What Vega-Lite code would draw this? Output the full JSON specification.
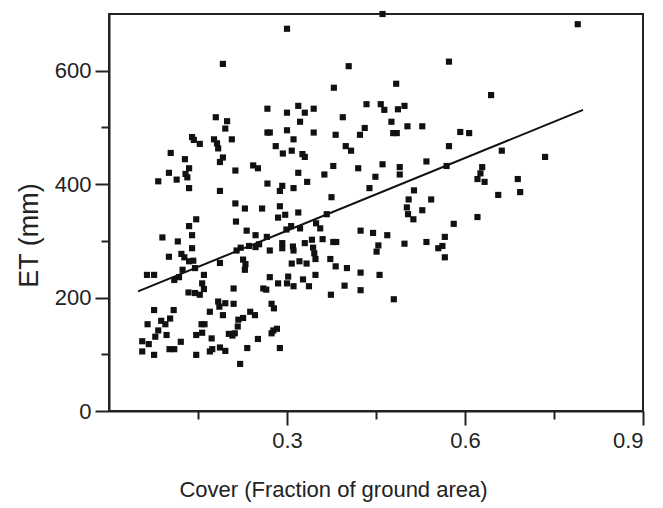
{
  "$schema": "https://vega.github.io/schema/vega-lite/v6.json",
  "width": 534,
  "height": 397,
  "autosize": "none",
  "padding": {"left": 109, "top": 14, "right": 20, "bottom": 97},
  "background": "white",
  "config": {
    "view": {"stroke": "#222", "strokeWidth": 2},
    "axis": {"grid": false, "domainColor": "#222", "domainWidth": 2, "tickColor": "#222", "tickWidth": 2,
      "labelFont": "Liberation Sans", "labelColor": "#222", "titleFont": "Liberation Sans", "titleColor": "#222", "titleFontWeight": "normal"}
  },
  "layer": [
    {
      "data": {"values": [
        {"cover":0.300,"et":674},{"cover":0.192,"et":612},{"cover":0.404,"et":608},{"cover":0.379,"et":570},{"cover":0.434,"et":541},
        {"cover":0.458,"et":541},{"cover":0.267,"et":533},{"cover":0.300,"et":526},{"cover":0.319,"et":538},{"cover":0.330,"et":526},
        {"cover":0.345,"et":533},{"cover":0.322,"et":510},{"cover":0.180,"et":518},{"cover":0.199,"et":511},{"cover":0.196,"et":498},
        {"cover":0.394,"et":518},{"cover":0.431,"et":499},{"cover":0.423,"et":487},{"cover":0.140,"et":483},{"cover":0.143,"et":478},
        {"cover":0.153,"et":471},{"cover":0.177,"et":479},{"cover":0.182,"et":472},{"cover":0.184,"et":463},{"cover":0.207,"et":479},
        {"cover":0.267,"et":491},{"cover":0.271,"et":491},{"cover":0.300,"et":495},{"cover":0.311,"et":479},{"cover":0.345,"et":491},
        {"cover":0.382,"et":487},{"cover":0.461,"et":700},{"cover":0.790,"et":682},{"cover":0.573,"et":616},{"cover":0.484,"et":577},
        {"cover":0.644,"et":557},{"cover":0.464,"et":531},{"cover":0.487,"et":532},{"cover":0.498,"et":538},{"cover":0.476,"et":510},
        {"cover":0.479,"et":490},{"cover":0.485,"et":490},{"cover":0.503,"et":502},{"cover":0.528,"et":502},{"cover":0.592,"et":492},
        {"cover":0.607,"et":490},{"cover":0.281,"et":467},{"cover":0.293,"et":454},{"cover":0.308,"et":459},{"cover":0.326,"et":453},
        {"cover":0.330,"et":448},{"cover":0.399,"et":467},{"cover":0.408,"et":459},{"cover":0.104,"et":455},{"cover":0.128,"et":444},
        {"cover":0.192,"et":447},{"cover":0.187,"et":439},{"cover":0.135,"et":428},{"cover":0.101,"et":420},{"cover":0.114,"et":408},
        {"cover":0.129,"et":418},{"cover":0.132,"et":412},{"cover":0.083,"et":405},{"cover":0.135,"et":393},{"cover":0.213,"et":424},
        {"cover":0.243,"et":433},{"cover":0.251,"et":428},{"cover":0.187,"et":388},{"cover":0.267,"et":401},{"cover":0.292,"et":397},
        {"cover":0.288,"et":388},{"cover":0.311,"et":393},{"cover":0.319,"et":420},{"cover":0.334,"et":404},{"cover":0.363,"et":417},
        {"cover":0.378,"et":432},{"cover":0.420,"et":428},{"cover":0.461,"et":435},{"cover":0.449,"et":413},{"cover":0.439,"et":393},
        {"cover":0.375,"et":377},{"cover":0.573,"et":467},{"cover":0.662,"et":459},{"cover":0.735,"et":448},{"cover":0.490,"et":430},
        {"cover":0.490,"et":417},{"cover":0.535,"et":440},{"cover":0.569,"et":432},{"cover":0.629,"et":430},{"cover":0.626,"et":419},
        {"cover":0.621,"et":409},{"cover":0.633,"et":404},{"cover":0.689,"et":409},{"cover":0.693,"et":386},{"cover":0.656,"et":381},
        {"cover":0.514,"et":389},{"cover":0.505,"et":373},{"cover":0.543,"et":373},{"cover":0.213,"et":366},{"cover":0.229,"et":357},
        {"cover":0.258,"et":357},{"cover":0.288,"et":361},{"cover":0.297,"et":346},{"cover":0.285,"et":341},{"cover":0.319,"et":350},
        {"cover":0.367,"et":347},{"cover":0.147,"et":338},{"cover":0.135,"et":326},{"cover":0.140,"et":310},{"cover":0.090,"et":306},
        {"cover":0.116,"et":299},{"cover":0.214,"et":334},{"cover":0.232,"et":318},{"cover":0.247,"et":310},{"cover":0.266,"et":307},
        {"cover":0.299,"et":320},{"cover":0.307,"et":326},{"cover":0.322,"et":322},{"cover":0.349,"et":331},{"cover":0.356,"et":322},
        {"cover":0.424,"et":318},{"cover":0.445,"et":314},{"cover":0.502,"et":359},{"cover":0.528,"et":354},{"cover":0.504,"et":347},
        {"cover":0.513,"et":338},{"cover":0.581,"et":330},{"cover":0.621,"et":342},{"cover":0.469,"et":310},{"cover":0.454,"et":292},
        {"cover":0.451,"et":281},{"cover":0.498,"et":295},{"cover":0.535,"et":298},{"cover":0.566,"et":307},{"cover":0.555,"et":287},
        {"cover":0.562,"et":291},{"cover":0.566,"et":271},{"cover":0.140,"et":287},{"cover":0.122,"et":277},{"cover":0.127,"et":271},
        {"cover":0.101,"et":272},{"cover":0.135,"et":264},{"cover":0.142,"et":265},{"cover":0.215,"et":283},{"cover":0.222,"et":288},
        {"cover":0.226,"et":267},{"cover":0.230,"et":259},{"cover":0.229,"et":249},{"cover":0.236,"et":291},{"cover":0.247,"et":289},
        {"cover":0.253,"et":294},{"cover":0.271,"et":283},{"cover":0.292,"et":296},{"cover":0.292,"et":287},{"cover":0.310,"et":290},
        {"cover":0.311,"et":283},{"cover":0.330,"et":296},{"cover":0.342,"et":302},{"cover":0.344,"et":288},{"cover":0.346,"et":278},
        {"cover":0.360,"et":303},{"cover":0.378,"et":298},{"cover":0.383,"et":298},{"cover":0.373,"et":268},{"cover":0.308,"et":260},
        {"cover":0.321,"et":264},{"cover":0.333,"et":260},{"cover":0.348,"et":268},{"cover":0.382,"et":255},{"cover":0.401,"et":252},
        {"cover":0.424,"et":244},{"cover":0.456,"et":240},{"cover":0.348,"et":240},{"cover":0.327,"et":232},{"cover":0.337,"et":220},
        {"cover":0.302,"et":237},{"cover":0.300,"et":225},{"cover":0.311,"et":220},{"cover":0.285,"et":225},{"cover":0.271,"et":236},
        {"cover":0.260,"et":216},{"cover":0.265,"et":214},{"cover":0.374,"et":205},{"cover":0.397,"et":221},{"cover":0.424,"et":213},
        {"cover":0.480,"et":197},{"cover":0.274,"et":189},{"cover":0.278,"et":181},{"cover":0.238,"et":175},{"cover":0.246,"et":169},
        {"cover":0.277,"et":142},{"cover":0.283,"et":145},{"cover":0.274,"et":137},{"cover":0.251,"et":127},{"cover":0.233,"et":111},
        {"cover":0.288,"et":111},{"cover":0.221,"et":83},{"cover":0.064,"et":240},{"cover":0.076,"et":240},{"cover":0.124,"et":249},
        {"cover":0.145,"et":252},{"cover":0.118,"et":236},{"cover":0.110,"et":231},{"cover":0.160,"et":240},{"cover":0.187,"et":261},
        {"cover":0.157,"et":225},{"cover":0.160,"et":215},{"cover":0.134,"et":209},{"cover":0.145,"et":208},{"cover":0.153,"et":205},
        {"cover":0.210,"et":216},{"cover":0.184,"et":193},{"cover":0.196,"et":190},{"cover":0.186,"et":184},{"cover":0.210,"et":189},
        {"cover":0.170,"et":175},{"cover":0.192,"et":169},{"cover":0.076,"et":178},{"cover":0.109,"et":178},{"cover":0.103,"et":163},
        {"cover":0.088,"et":159},{"cover":0.095,"et":153},{"cover":0.065,"et":153},{"cover":0.083,"et":142},{"cover":0.078,"et":131},
        {"cover":0.097,"et":134},{"cover":0.056,"et":123},{"cover":0.067,"et":118},{"cover":0.056,"et":105},{"cover":0.076,"et":99},
        {"cover":0.102,"et":109},{"cover":0.110,"et":109},{"cover":0.121,"et":122},{"cover":0.156,"et":153},{"cover":0.161,"et":153},
        {"cover":0.147,"et":134},{"cover":0.157,"et":138},{"cover":0.173,"et":128},{"cover":0.147,"et":99},{"cover":0.170,"et":105},
        {"cover":0.174,"et":109},{"cover":0.187,"et":112},{"cover":0.196,"et":106},{"cover":0.202,"et":136},{"cover":0.208,"et":133},
        {"cover":0.212,"et":137},{"cover":0.218,"et":161},{"cover":0.226,"et":164},{"cover":0.217,"et":149}
      ]},
      "mark": {"type": "square", "filled": true, "size": 38, "color": "#111", "opacity": 1},
      "encoding": {
        "x": {"field": "cover", "type": "quantitative",
          "scale": {"domain": [0, 0.9], "nice": false, "zero": false},
          "axis": {"orient": "bottom", "values": [0.3, 0.6, 0.9], "format": ".1f", "tickSize": 14, "labelPadding": 5, "labelFontSize": 22,
            "title": "Cover (Fraction of ground area)", "titleFontSize": 22, "titleX": 224, "titleY": 78, "titleAlign": "center", "titleBaseline": "middle", "titleAnchor": null}},
        "y": {"field": "et", "type": "quantitative",
          "scale": {"domain": [0, 700], "nice": false, "zero": false},
          "axis": {"orient": "left", "values": [0, 200, 400, 600], "format": "d", "tickSize": 14, "labelPadding": 4, "labelFontSize": 22,
            "title": "ET (mm)", "titleFontSize": 27, "titleX": -80, "titleY": 221, "titleAngle": -90, "titleAlign": "center", "titleBaseline": "middle", "titleAnchor": null}}
      }
    },
    {
      "data": {"values": [{"cover": 0.049, "et": 211}, {"cover": 0.799, "et": 531}]},
      "mark": {"type": "line", "color": "#111", "strokeWidth": 2},
      "encoding": {
        "x": {"field": "cover", "type": "quantitative",
          "axis": {"orient": "bottom", "values": [0.15, 0.45, 0.75], "tickSize": 8, "labels": false, "domain": false, "title": null}},
        "y": {"field": "et", "type": "quantitative",
          "axis": {"orient": "left", "values": [100, 300, 500], "tickSize": 8, "labels": false, "domain": false, "title": null}}
      }
    }
  ],
  "resolve": {"axis": {"x": "independent", "y": "independent"}}
}
